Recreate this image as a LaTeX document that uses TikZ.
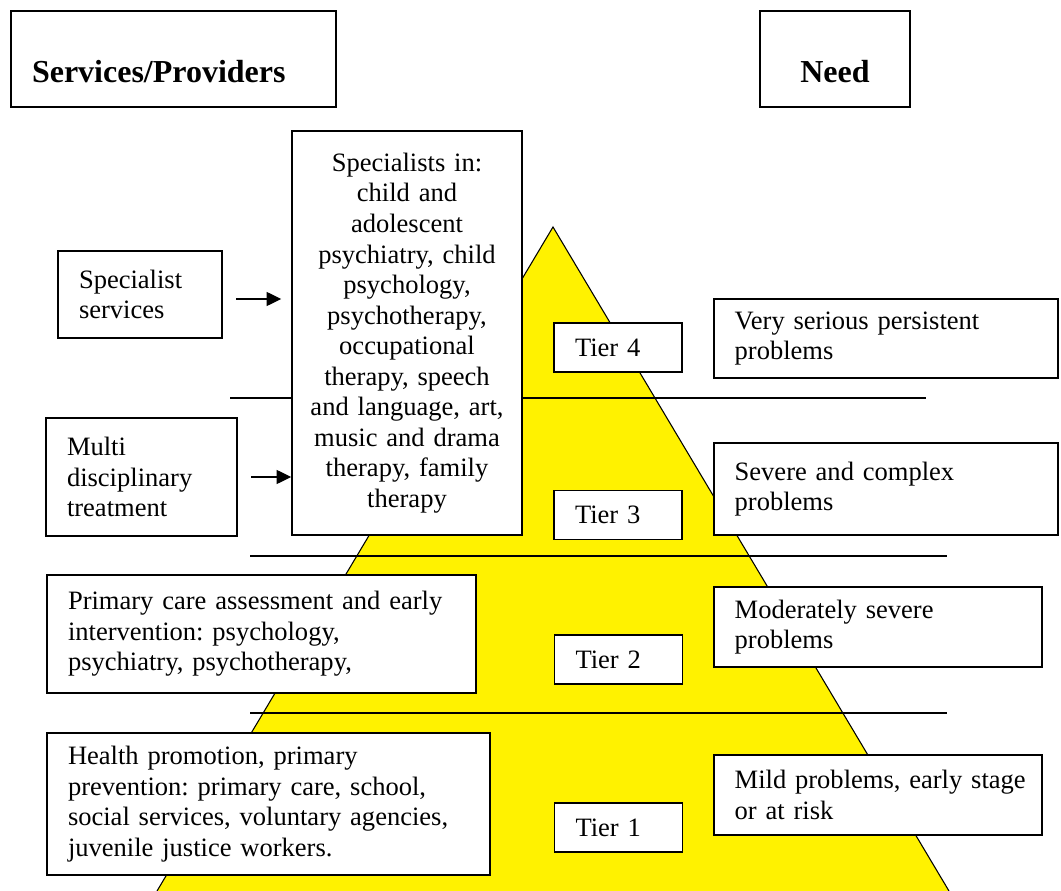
\documentclass[tikz,border=0pt]{standalone}
\usepackage{fontspec}
\setmainfont{Liberation Serif}
\usetikzlibrary{arrows.meta}
\frenchspacing
\hyphenpenalty=10000
\exhyphenpenalty=10000

\begin{document}
\begin{tikzpicture}[
x=0.75pt, y=-0.75pt,
>={Triangle[length=11pt,width=10.5pt]},
box/.style={draw, line width=1.1pt, fill=white, inner ysep=0pt, inner xsep=15.75pt,
  align=left, font=\fontsize{19.9}{22.9}\selectfont},
head/.style={box, font=\fontsize{24}{27.6}\selectfont\bfseries,
  text height=54pt, text depth=18pt, anchor=base},
tier/.style={box, text width=64.5pt, minimum height=36.75pt},
needbox/.style={box, inner xsep=15.5pt, text width=227pt},
rule/.style={line width=1pt},
]
\useasboundingbox (0,0) rectangle (1061,891);

% Pyramid
\coordinate (top) at (553,227);
\coordinate (bl) at (157,891);
\coordinate (br) at (949,891);
\fill[yellow] (top) -- (bl) -- (br) -- cycle;
\draw[line width=0.8pt] (bl) -- (top) -- (br);

% Tier borders
\coordinate (l43) at (230,398);
\coordinate (r43) at (926,398);
\coordinate (l32) at (250,556);
\coordinate (r32) at (947,556);
\coordinate (l21) at (250,713);
\coordinate (r21) at (947,713);
\draw[rule] (l43) -- (r43);
\draw[rule] (l32) -- (r32);
\draw[rule] (l21) -- (r21);

% Headings
\node[head, text width=212.25pt] (svc) at (173.5,83) {Services/Providers};
\node[head, text width=81pt, align=center] (need) at (835,83) {Need};

% Services
\node[box, text width=150pt, inner xsep=11.25pt, minimum height=303pt, align=center] (spec) at (407,333)
  {Specialists in:\\child and\\adolescent\\psychiatry, child\\psychology,\\psychotherapy,\\occupational\\therapy, speech\\and language, art,\\music and drama\\therapy, family\\therapy};
\node[box, text width=91.5pt, minimum height=65.25pt] (sps) at (140,294.5) {Specialist\\services};
\node[box, text width=111.75pt, minimum height=88.5pt] (mdt) at (141.5,477) {Multi\\disciplinary\\treatment};
\node[box, text width=290.25pt, minimum height=88.5pt] (pca) at (261.5,634)
  {Primary care assessment and early\\intervention: psychology,\\psychiatry, psychotherapy,};
\node[box, text width=300.75pt, minimum height=106.5pt] (hp) at (268.5,804)
  {Health promotion, primary\\prevention: primary care, school,\\social services, voluntary agencies,\\juvenile justice workers.};

% Tiers
\node[tier] (t4) at (618,347.5) {Tier 4};
\node[tier] (t3) at (618,515) {Tier 3};
\node[tier] (t2) at (618.5,659.5) {Tier 2};
\node[tier] (t1) at (618.5,827.5) {Tier 1};

% Need
\node[needbox, minimum height=59.25pt] (vsp) at (886,338.5) {Very serious persistent\\problems};
\node[needbox, minimum height=69pt] (sc) at (886,489) {Severe and complex\\problems};
\node[needbox, text width=215pt, minimum height=60pt] (msp) at (878,627) {Moderately severe\\problems};
\node[needbox, text width=215pt, minimum height=60pt] (mild) at (878,795) {\mbox{Mild problems, early stage}\\or at risk};

% Arrows
\coordinate (a1) at (236,299);
\coordinate (a2) at (251,477);
\draw[->, line width=1pt, shorten >=7.5pt] (a1) -- (a1 -| spec.west);
\draw[->, line width=1pt] (a2) -- (a2 -| spec.west);

\end{tikzpicture}
\end{document}
